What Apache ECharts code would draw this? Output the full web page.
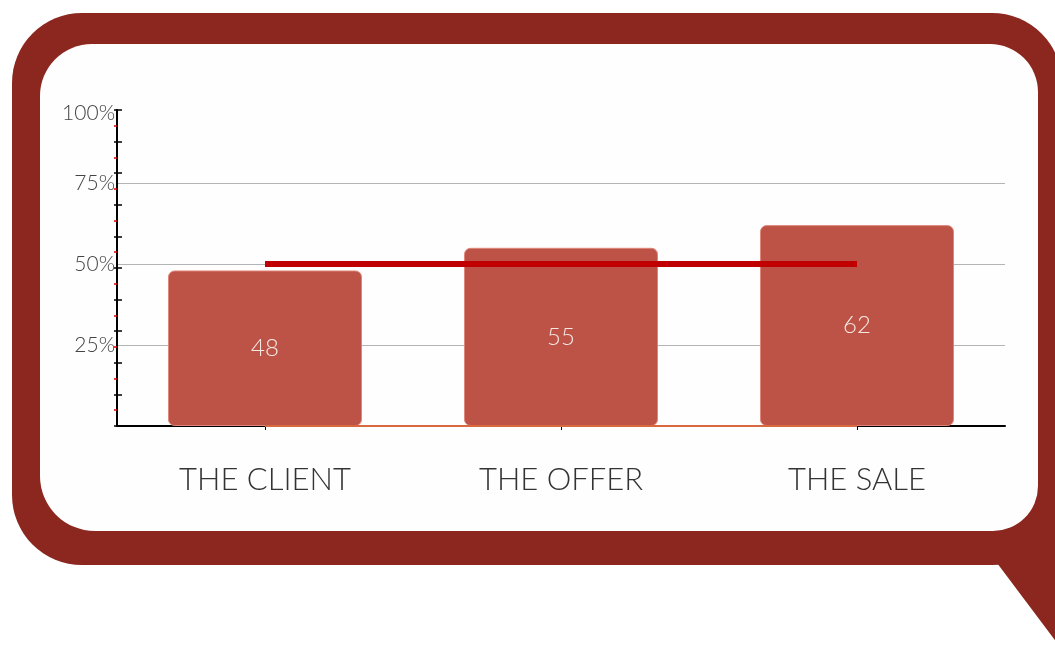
<!DOCTYPE html>
<html>
<head>
<meta charset="utf-8">
<script src="https://cdn.jsdelivr.net/npm/echarts@6/dist/echarts.min.js"></script>
<style>
html,body{margin:0;padding:0;background:#fff;}
#chart{width:1055px;height:650px;}
</style>
</head>
<body>
<div id="chart"></div>
<script>
// ---- data ----
const categories = ['THE CLIENT', 'THE OFFER', 'THE SALE'];
const values = [48, 55, 62];
const targetLine = [50, 50, 50];
const baseLine = [0, 0, 0];
const percentMax = 100;
const percentStep = 25;
const scaleMax = 10;   // divisions of the tick ruler on the y axis
const scaleStep = 1;

const chart = echarts.init(document.getElementById('chart'), null, {renderer: 'canvas'});

const option = {
  animation: false,
  backgroundColor: '#ffffff',
  graphic: [
    { type: 'rect', z: -20, silent: true,
      shape: { x: 12, y: 13, width: 1050, height: 552, r: 70 },
      style: { fill: '#8B271F' } },
    { type: 'polygon', z: -20, silent: true,
      shape: { points: [[960, 520], [1100, 520], [1100, 700], [997, 563], [960, 563]] },
      style: { fill: '#8B271F' } },
    { type: 'rect', z: -19, silent: true,
      shape: { x: 40, y: 44, width: 998, height: 487, r: [52, 48, 45, 55] },
      style: { fill: '#fefefe' } }
  ],
  grid: [
    { left: 117, right: 50, top: 102, bottom: 224 },
    { left: 117, right: 50, top: 110, bottom: 224 }
  ],
  xAxis: [
    {
      type: 'category', gridIndex: 0, data: categories,
      axisLine: { lineStyle: { color: '#000', width: 2 } },
      axisTick: { show: true, alignWithLabel: true, length: 4, lineStyle: { color: '#000' } },
      axisLabel: {
        margin: 38,
        fontFamily: 'Lato, sans-serif', fontWeight: 300,
        fontSize: 31, color: '#333'
      },
      splitLine: { show: false }
    },
    { type: 'value', gridIndex: 1, show: false }
  ],
  yAxis: [
    {
      type: 'value', gridIndex: 0, min: 0, max: percentMax, interval: percentStep,
      axisLine: { show: false },
      axisTick: { show: false },
      axisLabel: {
        show: true, margin: 2,
        formatter: function (v) {
          if (v === 0) return '';
          if (v === percentMax) return '{top|' + v + '%}';
          return v + '%';
        },
        fontFamily: 'Lato, sans-serif', fontWeight: 300, fontSize: 21, color: '#444',
        rich: {
          top: { fontFamily: 'Lato, sans-serif', fontWeight: 300, fontSize: 21, color: '#444', padding: [22, 0, 0, 0] }
        }
      },
      splitLine: { show: true, showMinLine: false, showMaxLine: false, lineStyle: { color: '#b4b4b4', width: 1 } }
    },
    {
      type: 'value', gridIndex: 1, position: 'left', min: 0, max: scaleMax, interval: scaleStep,
      axisLine: { show: true, lineStyle: { color: '#000', width: 2 } },
      axisTick: { show: true, inside: true, length: 5, lineStyle: { color: '#000', width: 1.5 } },
      axisLabel: { show: false },
      splitLine: { show: false }
    },
    {
      type: 'value', gridIndex: 1, position: 'left', offset: 0, min: 0, max: scaleMax, interval: scaleStep,
      axisLine: { show: false },
      axisTick: { show: true, inside: false, length: 3, lineStyle: { color: '#000', width: 1.5 } },
      minorTick: { show: true, splitNumber: 2, length: 3, lineStyle: { color: '#e00000', width: 1.5 } },
      axisLabel: { show: false },
      splitLine: { show: false }
    }
  ],
  series: [
    {
      name: 'Score', type: 'bar', xAxisIndex: 0, yAxisIndex: 0,
      data: values, barWidth: 194, z: 2,
      itemStyle: { color: '#BC5346', borderColor: '#e0857a', borderWidth: 1, borderRadius: 6 },
      label: {
        show: true, position: 'inside',
        fontFamily: 'Lato, sans-serif', fontWeight: 300, fontSize: 24, color: '#f6e8e5'
      }
    },
    {
      name: 'Target', type: 'line', xAxisIndex: 0, yAxisIndex: 0,
      data: targetLine, symbol: 'none', z: 5,
      lineStyle: { color: '#C00000', width: 6, cap: 'butt' }
    },
    {
      name: 'Base', type: 'line', xAxisIndex: 0, yAxisIndex: 0,
      data: baseLine, symbol: 'none', z: 5,
      lineStyle: { color: '#d8683f', width: 2, cap: 'butt' }
    }
  ]
};
chart.setOption(option);
</script>
</body>
</html>
